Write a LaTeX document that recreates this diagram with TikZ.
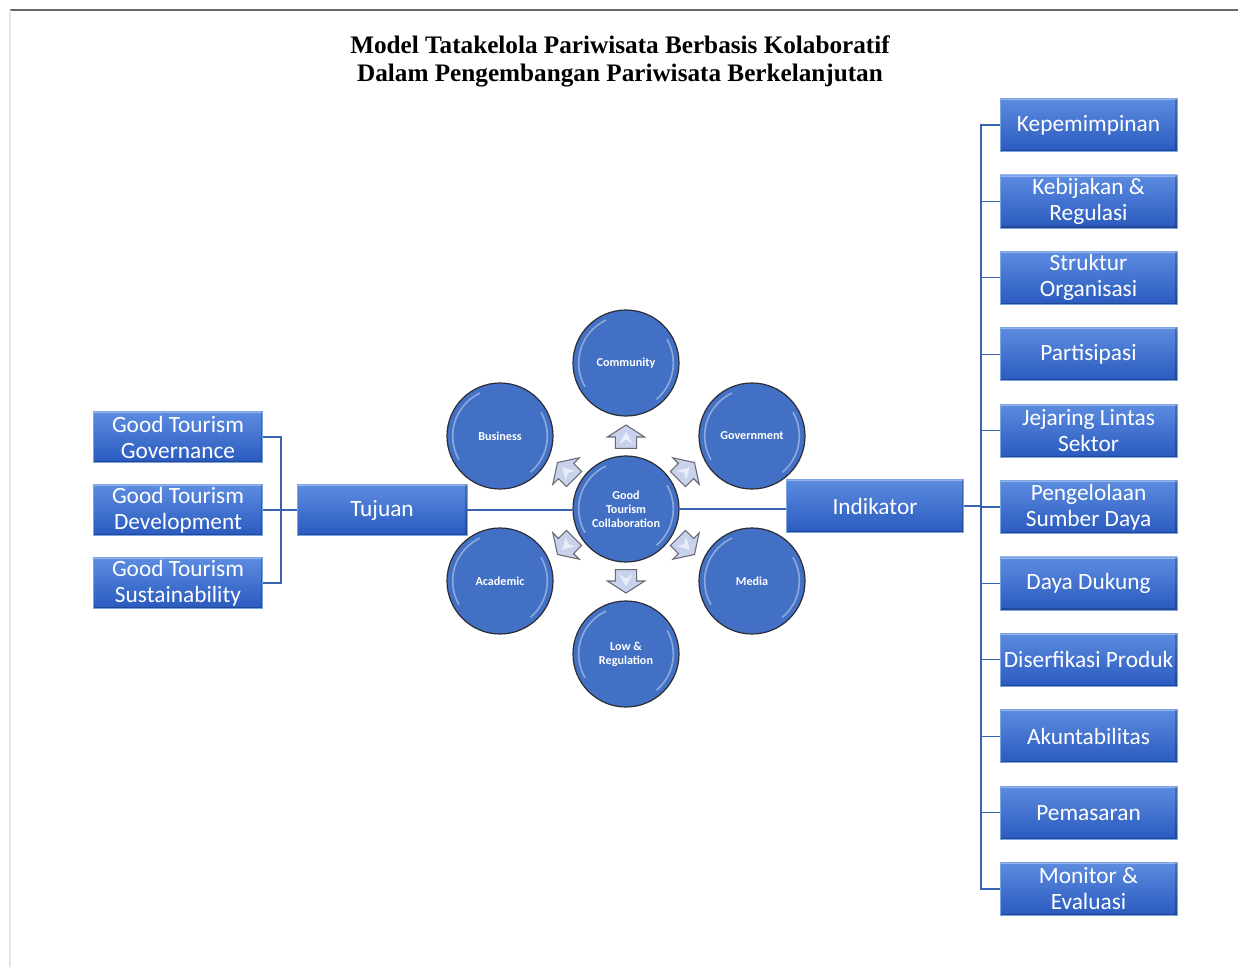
\documentclass[tikz,border=0pt]{standalone}
\usepackage{fontspec}
\setmainfont{Carlito}
\newfontfamily\titlefont{Liberation Serif}
\usetikzlibrary{positioning}
\definecolor{boxtop}{RGB}{92,140,224}
\definecolor{boxbot}{RGB}{42,90,190}
\definecolor{boxedge}{RGB}{125,165,228}
\definecolor{circfill}{RGB}{66,112,196}
\definecolor{circedge}{RGB}{45,45,55}
\definecolor{conncol}{RGB}{58,98,178}
\definecolor{arrfill}{RGB}{200,210,236}
\definecolor{arredge}{RGB}{105,105,115}
\tikzset{
  x=0.75pt, y=-0.75pt,
  boxnode/.style={rectangle, inner sep=0pt, align=center, text=white,
    font=\fontsize{17.5}{19.5}\selectfont, top color=boxtop, bottom color=boxbot,
    draw=boxedge, line width=0.6pt, minimum width=132.75pt, minimum height=39.75pt,
    path picture={
      \draw[white,opacity=.35,line width=2.4pt] (path picture bounding box.north west) -- (path picture bounding box.north east);
      \draw[black,opacity=.22,line width=2.4pt] (path picture bounding box.north east) -- (path picture bounding box.south east) -- (path picture bounding box.south west);
    }},
  leftbox/.style={boxnode, minimum width=126.75pt, minimum height=38.25pt},
  circnode/.style={circle, inner sep=0pt, align=center, text=white,
    font=\bfseries\fontsize{9.1}{10.5}\selectfont, fill=circfill, draw=circedge,
    line width=0.9pt, minimum size=79.5pt,
    path picture={
      \draw[white,opacity=.4,line width=1.2pt] ([shift={(115:35.5pt)}]path picture bounding box.center) arc[start angle=115,end angle=210,radius=35.5pt];
      \draw[white,opacity=.4,line width=1.2pt] ([shift={(-50:35.5pt)}]path picture bounding box.center) arc[start angle=-50,end angle=30,radius=35.5pt];
    }},
  conn/.style={draw=conncol, line width=1pt},
  blockarrow/.pic={
    \path[fill=arrfill, draw=arredge, line width=0.8pt, line join=miter]
      (0pt,9pt) -- (14pt,0pt) -- (8pt,0pt) -- (8pt,-8.5pt) -- (-8pt,-8.5pt) -- (-8pt,0pt) -- (-14pt,0pt) -- cycle;
    \path[fill=white, opacity=.6] (0pt,4pt) -- (5pt,-5pt) -- (0pt,-2pt) -- (-5pt,-5pt) -- cycle;
  }
}
\begin{document}
\begin{tikzpicture}
\useasboundingbox (0,0) rectangle (1238,967);
% frame lines
\draw[gray!80!black, line width=1pt] (10,10) -- (1238,10);
\draw[gray!20, line width=1pt] (10,10) -- (10,967);
% title
\node[align=center, font=\titlefont\bfseries\fontsize{18.9}{21}\selectfont] (title) at (620,61)
  {Model Tatakelola Pariwisata Berbasis Kolaboratif\\Dalam Pengembangan Pariwisata Berkelanjutan};
% left boxes
\node[leftbox] (l1) at (178,437) {Good Tourism\\Governance};
\node[leftbox] (l2) at (178,510) {Good Tourism\\Development};
\node[leftbox] (l3) at (178,583) {Good Tourism\\Sustainability};
\node[leftbox, minimum width=127.5pt] (tuj) at (382,510) {Tujuan};
\node[boxnode] (ind) at (875,506) {Indikator};
% right boxes
\node[boxnode] (r1) at (1088.5,125) {Kepemimpinan};
\node[boxnode] (r2) at (1088.5,201.4) {Kebijakan \&\\Regulasi};
\node[boxnode] (r3) at (1088.5,277.8) {Struktur\\Organisasi};
\node[boxnode] (r4) at (1088.5,354.2) {Partisipasi};
\node[boxnode] (r5) at (1088.5,430.6) {Jejaring Lintas\\Sektor};
\node[boxnode] (r6) at (1088.5,507) {Pengelolaan\\Sumber Daya};
\node[boxnode] (r7) at (1088.5,583.4) {Daya Dukung};
\node[boxnode] (r8) at (1088.5,659.8) {Diserfikasi Produk};
\node[boxnode] (r9) at (1088.5,736.2) {Akuntabilitas};
\node[boxnode] (r10) at (1088.5,812.6) {Pemasaran};
\node[boxnode] (r11) at (1088.5,889) {Monitor \&\\Evaluasi};
% circles
\node[circnode] (gtc) at (626,509) {Good\\Tourism\\Collaboration};
\node[circnode] (com) at (626,363) {Community};
\node[circnode] (bus) at (500,436) {Business};
\node[circnode] (gov) at (752,436) {Government};
\node[circnode] (aca) at (500,581) {Academic};
\node[circnode] (med) at (752,581) {Media};
\node[circnode] (law) at (626,654) {Low \&\\Regulation};
% block arrows
\pic at (626,437) {blockarrow};
\pic[rotate=180] at (626,581) {blockarrow};
\pic[rotate=45] at (566,471) {blockarrow};
\pic[rotate=-45] at (686,471) {blockarrow};
\pic[rotate=135] at (566,546) {blockarrow};
\pic[rotate=-135] at (686,546) {blockarrow};
% connectors
\coordinate (lb) at (281,510);
\coordinate (sp) at (981,506);
\draw[conn] (l1.east) -- (l1.east -| lb) -- (l3.east -| lb) -- (l3.east);
\draw[conn] (l2.east) -- (tuj.west);
\draw[conn] (tuj.east) -- (tuj.east -| gtc.west);
\draw[conn] (gtc.east) -- (gtc.east -| ind.west);
\draw[conn] (ind.east) -- (sp);
\draw[conn] (r1.west) -- (r1.west -| sp) -- (r11.west -| sp) -- (r11.west);
\foreach \i in {2,...,10} { \draw[conn] (r\i.west) -- (r\i.west -| sp); }
\end{tikzpicture}
\end{document}
